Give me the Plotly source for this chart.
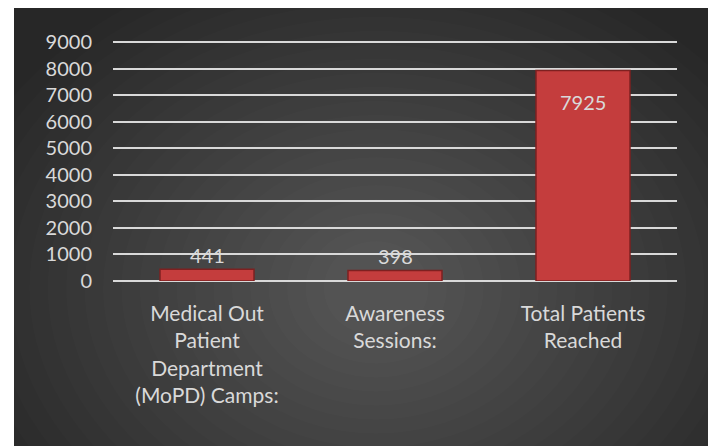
import plotly.graph_objects as go

categories = ["Medical Out<br>Patient<br>Department<br>(MoPD) Camps:",
              "Awareness<br>Sessions:",
              "Total Patients<br>Reached"]
values = [441, 398, 7925]
inside_label = [False, False, True]
y_ticks = [0, 1000, 2000, 3000, 4000, 5000, 6000, 7000, 8000, 9000]

# page body adds 8px margin, so the figure is 8px smaller each way
OFF = 8
W, H = 716 - OFF, 446 - OFF
FONT = "Lato"
TXT = "#d9d9d9"
Y_MAX = 9100
PX_PER_UNIT = (281 - 42) / 9000


def px(x):
    return (x - OFF) / W


def py(y):
    return 1 - (y - OFF) / H


fig = go.Figure()
fig.add_trace(go.Bar(
    x=categories, y=values, width=0.5,
    marker=dict(color="#c43d3d", line=dict(color="#7e2020", width=1.5)),
))

# value labels
for c, v, ins in zip(categories, values, inside_label):
    fig.add_annotation(x=c, y=v, text=str(v), showarrow=False,
                       yanchor="top" if ins else "bottom",
                       yshift=-17 if ins else 0,
                       font=dict(family=FONT, size=20, color=TXT))

# dark panel with a soft radial light in the middle
shapes = [dict(type="rect", xref="paper", yref="paper", x0=px(14), x1=px(713),
               y0=-0.01, y1=1.01, fillcolor="#272727", line_width=0, layer="below")]
n = 22
for i in range(n):
    rx = 0.62 - i * 0.026
    ry = 0.78 - i * 0.032
    cx, cy = 0.52, 0.36
    shapes.append(dict(type="circle", xref="paper", yref="paper",
                       x0=cx - rx, x1=cx + rx, y0=cy - ry, y1=cy + ry,
                       fillcolor="rgba(255,255,255,0.0105)", line_width=0, layer="below"))
# white surround outside the panel
shapes.append(dict(type="rect", xref="paper", yref="paper", x0=-0.05, x1=px(14), y0=-0.05, y1=1.05,
                   fillcolor="white", line_width=0, layer="below"))
shapes.append(dict(type="rect", xref="paper", yref="paper", x0=px(713), x1=1.05, y0=-0.05, y1=1.05,
                   fillcolor="white", line_width=0, layer="below"))

fig.update_layout(
    width=W, height=H,
    margin=dict(l=0, r=0, t=0, b=0),
    paper_bgcolor="white", plot_bgcolor="rgba(0,0,0,0)",
    shapes=shapes, showlegend=False,
    font=dict(family=FONT, color=TXT),
    xaxis=dict(domain=[px(113), px(677)], showgrid=False, showline=False,
               ticks="", tickfont=dict(family=FONT, size=21, color=TXT),
               ticklabelstandoff=18, automargin=False),
    yaxis=dict(domain=[py(281), py(281 - Y_MAX * PX_PER_UNIT)], range=[0, Y_MAX],
               tickvals=y_ticks, ticktext=[str(t) for t in y_ticks],
               showgrid=True, gridcolor="#d9d9d9", gridwidth=2,
               zeroline=True, zerolinecolor="#d9d9d9", zerolinewidth=2,
               tickfont=dict(family=FONT, size=20, color=TXT),
               ticklabelstandoff=20, automargin=False),
)

fig.write_html("out.html")
